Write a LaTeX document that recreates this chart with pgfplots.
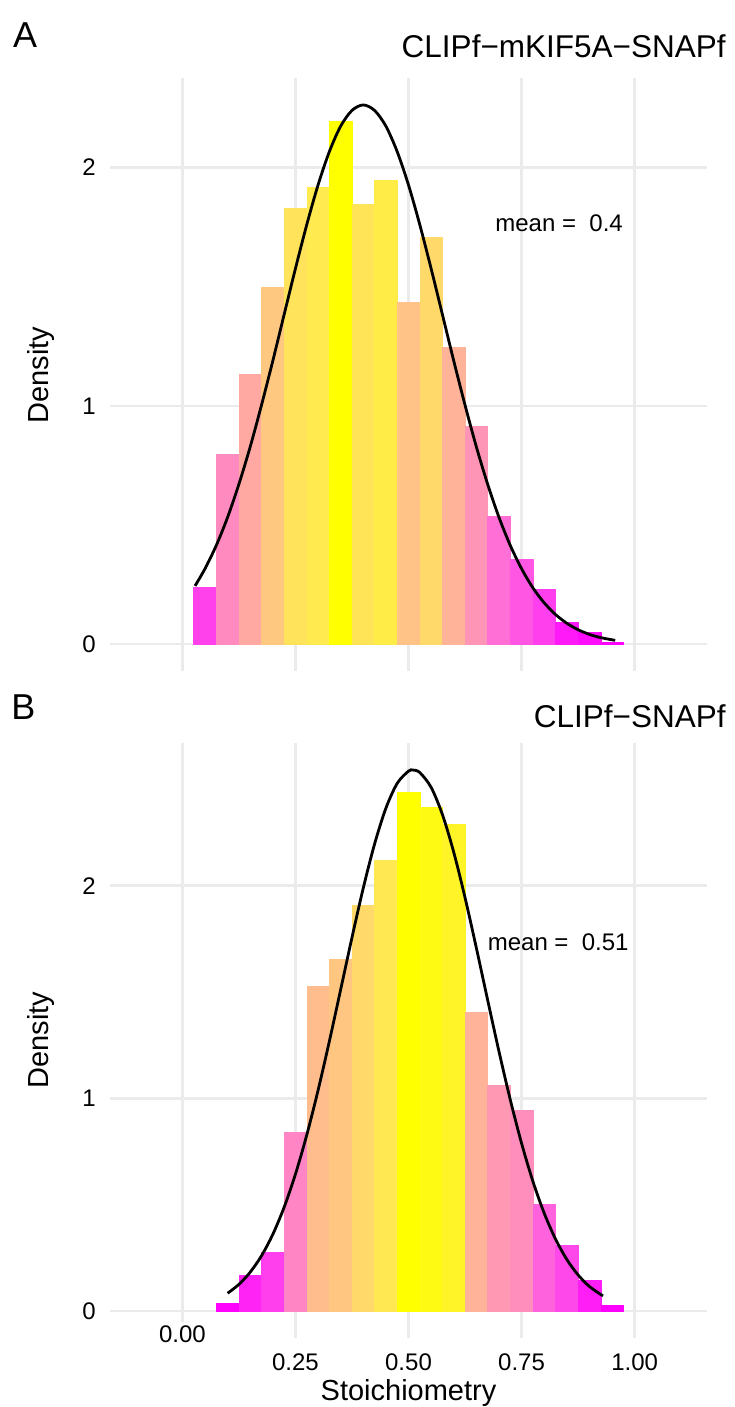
\documentclass[border=0pt]{standalone}
\usepackage{pgfplots}
\pgfplotsset{compat=1.18}
\usepgfplotslibrary{patchplots}
\usepackage{pgfplotstable}
\usepackage{fontspec}
\setmainfont{Liberation Sans}
\definecolor{gridc}{HTML}{EBEBEB}
\pgfplotsset{colormap={mgyl}{rgb255=(255,0,255) rgb255=(255,77,233) rgb255=(255,113,212) rgb255=(255,141,189) rgb255=(255,166,165) rgb255=(255,190,141) rgb255=(255,212,113) rgb255=(255,234,78) rgb255=(255,255,0)}}

% histogram bars: one rectangle (4 corners) per bin, c = density
\pgfplotstableread{
x y c
0.025 0 0.239
0.075 0 0.239
0.075 0.239 0.239
0.025 0.239 0.239
0.075 0 0.797
0.125 0 0.797
0.125 0.797 0.797
0.075 0.797 0.797
0.125 0 1.131
0.175 0 1.131
0.175 1.131 1.131
0.125 1.131 1.131
0.175 0 1.496
0.225 0 1.496
0.225 1.496 1.496
0.175 1.496 1.496
0.225 0 1.828
0.275 0 1.828
0.275 1.828 1.828
0.225 1.828 1.828
0.275 0 1.916
0.325 0 1.916
0.325 1.916 1.916
0.275 1.916 1.916
0.325 0 2.193
0.375 0 2.193
0.375 2.193 2.193
0.325 2.193 2.193
0.375 0 1.846
0.425 0 1.846
0.425 1.846 1.846
0.375 1.846 1.846
0.425 0 1.946
0.475 0 1.946
0.475 1.946 1.946
0.425 1.946 1.946
0.475 0 1.436
0.525 0 1.436
0.525 1.436 1.436
0.475 1.436 1.436
0.525 0 1.707
0.575 0 1.707
0.575 1.707 1.707
0.525 1.707 1.707
0.575 0 1.248
0.625 0 1.248
0.625 1.248 1.248
0.575 1.248 1.248
0.625 0 0.913
0.675 0 0.913
0.675 0.913 0.913
0.625 0.913 0.913
0.675 0 0.536
0.725 0 0.536
0.725 0.536 0.536
0.675 0.536 0.536
0.725 0 0.356
0.775 0 0.356
0.775 0.356 0.356
0.725 0.356 0.356
0.775 0 0.230
0.825 0 0.230
0.825 0.230 0.230
0.775 0.230 0.230
0.825 0 0.093
0.875 0 0.093
0.875 0.093 0.093
0.825 0.093 0.093
0.875 0 0.050
0.925 0 0.050
0.925 0.050 0.050
0.875 0.050 0.050
0.925 0 0.008
0.975 0 0.008
0.975 0.008 0.008
0.925 0.008 0.008
}\histA
\pgfplotstableread{
x y c
0.075 0 0.035
0.125 0 0.035
0.125 0.035 0.035
0.075 0.035 0.035
0.125 0 0.167
0.175 0 0.167
0.175 0.167 0.167
0.125 0.167 0.167
0.175 0 0.275
0.225 0 0.275
0.225 0.275 0.275
0.175 0.275 0.275
0.225 0 0.843
0.275 0 0.843
0.275 0.843 0.843
0.225 0.843 0.843
0.275 0 1.525
0.325 0 1.525
0.325 1.525 1.525
0.275 1.525 1.525
0.325 0 1.652
0.375 0 1.652
0.375 1.652 1.652
0.325 1.652 1.652
0.375 0 1.906
0.425 0 1.906
0.425 1.906 1.906
0.375 1.906 1.906
0.425 0 2.118
0.475 0 2.118
0.475 2.118 2.118
0.425 2.118 2.118
0.475 0 2.442
0.525 0 2.442
0.525 2.442 2.442
0.475 2.442 2.442
0.525 0 2.367
0.575 0 2.367
0.575 2.367 2.367
0.525 2.367 2.367
0.575 0 2.287
0.625 0 2.287
0.625 2.287 2.287
0.575 2.287 2.287
0.625 0 1.403
0.675 0 1.403
0.675 1.403 1.403
0.625 1.403 1.403
0.675 0 1.061
0.725 0 1.061
0.725 1.061 1.061
0.675 1.061 1.061
0.725 0 0.943
0.775 0 0.943
0.775 0.943 0.943
0.725 0.943 0.943
0.775 0 0.501
0.825 0 0.501
0.825 0.501 0.501
0.775 0.501 0.501
0.825 0 0.308
0.875 0 0.308
0.875 0.308 0.308
0.825 0.308 0.308
0.875 0 0.143
0.925 0 0.143
0.925 0.143 0.143
0.875 0.143 0.143
0.925 0 0.026
0.975 0 0.026
0.975 0.026 0.026
0.925 0.026 0.026
}\histB
\pgfplotstableread{
x y
0.028 0.244
0.05 0.316
0.075 0.414
0.1 0.532
0.125 0.671
0.15 0.828
0.175 1.003
0.2 1.189
0.225 1.383
0.25 1.576
0.275 1.760
0.3 1.927
0.325 2.067
0.35 2.174
0.375 2.240
0.4 2.263
0.425 2.240
0.45 2.174
0.475 2.067
0.5 1.927
0.525 1.760
0.55 1.576
0.575 1.383
0.6 1.189
0.625 1.003
0.65 0.828
0.675 0.671
0.7 0.532
0.725 0.414
0.75 0.316
0.775 0.236
0.8 0.173
0.825 0.124
0.85 0.0871
0.875 0.0600
0.9 0.0406
0.925 0.0269
0.957 0.0154
}\curveA
\pgfplotstableread{
x y
0.1 0.0833
0.125 0.1248
0.15 0.1823
0.175 0.2595
0.2 0.3603
0.225 0.4877
0.25 0.6431
0.275 0.8273
0.3 1.0374
0.325 1.2682
0.35 1.5114
0.375 1.7559
0.4 1.9889
0.425 2.1962
0.45 2.3644
0.475 2.4814
0.5 2.5389
0.51 2.544
0.525 2.5323
0.55 2.4626
0.575 2.3346
0.6 2.1576
0.625 1.9439
0.65 1.7075
0.675 1.4623
0.7 1.2209
0.725 0.9937
0.75 0.7884
0.775 0.6098
0.8 0.4600
0.825 0.3381
0.85 0.2423
0.875 0.1693
0.9 0.1153
0.93 0.0704
}\curveB

\pgfplotsset{
  histstyle/.style={
    scale only axis,
    width=298.5pt,
    xmin=-0.16, xmax=1.16,
    axis line style={draw=none},
    major tick length=0pt,
    grid=major,
    major grid style={gridc, line width=1.25pt},
    xtick={0,0.25,0.5,0.75,1},
    ytick={0,1,2},
    /pgf/number format/assume math mode=true,
    tick label style={font=\fontsize{12}{14}\selectfont, text=black},
    yticklabel style={anchor=east, inner sep=0pt, xshift=-7pt},
    xticklabel style={anchor=north, inner sep=0pt, yshift=-7.5pt},
    colormap name=mgyl,
    clip=false,
  },
  barpatch/.style={patch, patch type=rectangle, shader=flat mean, line width=0.2pt},
}

\begin{document}
\begin{tikzpicture}
\path[use as bounding box] (0,0) rectangle (367pt,703.5pt);

% Panel A
\begin{axis}[histstyle,
  at={(55pt,368pt)}, anchor=south west,
  height=296.5pt,
  ymin=-0.1132, ymax=2.3762,
  xticklabels={},
  point meta min=0.008, point meta max=2.193,
]
\addplot[barpatch] table[x=x, y=y, point meta=\thisrow{c}] {\histA};
\addplot[black, line width=1.4pt, smooth] table[x=x, y=y] {\curveA};
\node[font=\fontsize{12}{14}\selectfont, anchor=center] at (axis cs:0.833,1.765) {mean =\ \ 0.4};
\end{axis}

% Panel B
\begin{axis}[histstyle,
  at={(55pt,34.5pt)}, anchor=south west,
  height=297.5pt,
  ymin=-0.1272, ymax=2.6712,
  xticklabels={,0.25,0.50,0.75,1.00},
  point meta min=0.026, point meta max=2.442,
]
\addplot[barpatch] table[x=x, y=y, point meta=\thisrow{c}] {\histB};
\addplot[black, line width=1.4pt, smooth] table[x=x, y=y] {\curveB};
\node[font=\fontsize{12}{14}\selectfont, anchor=center] at (axis cs:0.831,1.736) {mean =\ \ 0.51};
\node[font=\fontsize{12}{14}\selectfont, fill=white, inner sep=1.5pt, anchor=center] at (axis cs:0,-0.108) {0.00};
\end{axis}

% Labels
\node[font=\fontsize{18}{20}\selectfont, anchor=base west, inner sep=0pt] at (6.3pt,679.5pt) {A};
\node[font=\fontsize{18}{20}\selectfont, anchor=base west, inner sep=0pt] at (5.5pt,343.5pt) {B};
\node[font=\fontsize{15.75}{18}\selectfont, anchor=base east, inner sep=0pt] at (363pt,674.5pt) {CLIPf−mKIF5A−SNAPf};
\node[font=\fontsize{15.75}{18}\selectfont, anchor=base east, inner sep=0pt] at (363pt,339.5pt) {CLIPf−SNAPf};
\node[font=\fontsize{14.5}{17}\selectfont, anchor=base, inner sep=0pt, rotate=90] at (24pt,516pt) {Density};
\node[font=\fontsize{14.5}{17}\selectfont, anchor=base, inner sep=0pt, rotate=90] at (24pt,183.5pt) {Density};
\node[font=\fontsize{14.5}{17}\selectfont, anchor=base, inner sep=0pt] at (204.25pt,3pt) {Stoichiometry};
\end{tikzpicture}
\end{document}
